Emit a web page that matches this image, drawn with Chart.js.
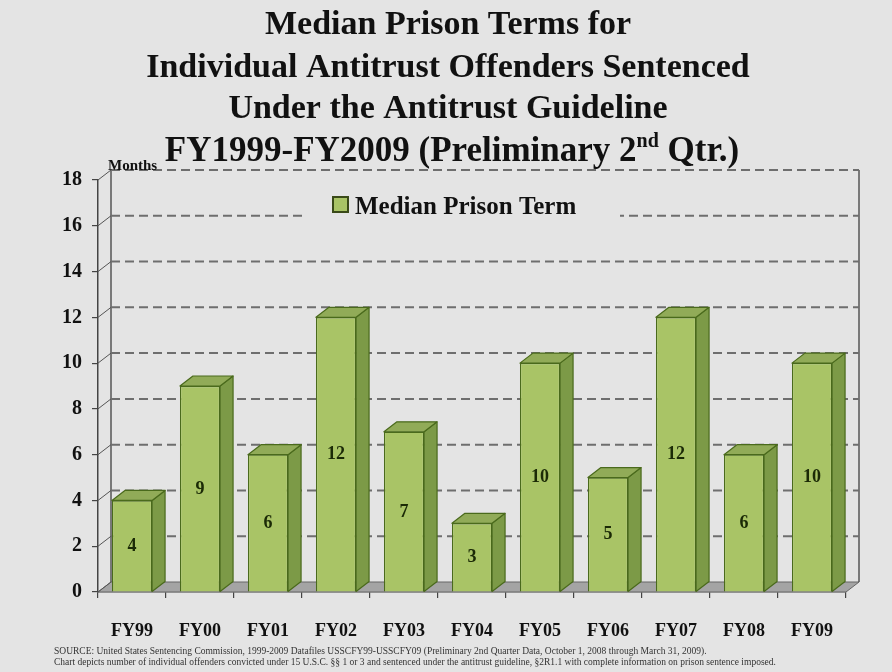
<!DOCTYPE html>
<html>
<head>
<meta charset="utf-8">
<script src="https://cdn.jsdelivr.net/npm/chart.js@4.4.0/dist/chart.umd.min.js"></script>
<style>
html,body{margin:0;padding:0;background:#e4e4e4;}
#wrap{width:892px;height:672px;position:relative;}
</style>
</head>
<body>
<div id="wrap"><canvas id="c" width="892" height="672"></canvas></div>
<script>
// ---- data ----
const categories = ['FY99','FY00','FY01','FY02','FY03','FY04','FY05','FY06','FY07','FY08','FY09'];
const medianPrisonTerm = [4, 9, 6, 12, 7, 3, 10, 5, 12, 6, 10];
const seriesLabel = 'Median Prison Term';
const yTickValues = [0, 2, 4, 6, 8, 10, 12, 14, 16, 18];
const yAxisTitle = 'Months';
const titleLines = [
  'Median Prison Terms for',
  'Individual Antitrust Offenders Sentenced',
  'Under the Antitrust Guideline'
];
const titleLast = ['FY1999-FY2009 (Preliminary 2', 'nd', ' Qtr.)'];
const footerLines = [
  'SOURCE: United States Sentencing Commission, 1999-2009 Datafiles USSCFY99-USSCFY09 (Preliminary 2nd Quarter Data, October 1, 2008 through March 31, 2009).',
  'Chart depicts number of individual offenders convicted under 15 U.S.C. \u00a7\u00a7 1 or 3 and sentenced under the antitrust guideline, \u00a72R1.1 with complete information on prison sentence imposed.'
];

// ---- styles ----
const SERIF = '"Liberation Serif","Times New Roman",serif';
const BG = '#e4e4e4';
const FRONT = '#a9c466', SIDE = '#7c9a47', TOP = '#91ab58', EDGE = '#4a6a1c';
const DX = 13, DY = 10;

const bgPlugin = {
  id: 'bg',
  beforeDraw(chart) {
    const c = chart.ctx;
    c.save(); c.fillStyle = BG; c.fillRect(0, 0, chart.width, chart.height); c.restore();
  }
};

const wallPlugin = {
  id: 'walls',
  beforeDatasetsDraw(chart) {
    const c = chart.ctx, a = chart.chartArea, y = chart.scales.y;
    c.save();
    // floor
    c.fillStyle = '#a4a4a4';
    c.strokeStyle = '#666';
    c.lineWidth = 1;
    c.beginPath();
    c.moveTo(a.left, a.bottom); c.lineTo(a.right, a.bottom);
    c.lineTo(a.right + DX, a.bottom - DY); c.lineTo(a.left + DX, a.bottom - DY);
    c.closePath(); c.fill(); c.stroke();
    const topY = y.getPixelForValue(y.max);
    // back wall verticals
    c.strokeStyle = '#555'; c.lineWidth = 1.5;
    c.beginPath();
    c.moveTo(a.left + DX, topY - DY); c.lineTo(a.left + DX, a.bottom - DY);
    c.moveTo(a.right + DX, topY - DY); c.lineTo(a.right + DX, a.bottom - DY);
    c.stroke();
    // side wall connectors + dashed back gridlines
    yTickValues.forEach(v => {
      const py = y.getPixelForValue(v);
      c.setLineDash([]);
      c.strokeStyle = '#555'; c.lineWidth = 1;
      c.beginPath(); c.moveTo(a.left, py); c.lineTo(a.left + DX, py - DY); c.stroke();
      if (v > 0) {
        c.setLineDash([9, 5]);
        c.strokeStyle = '#6e6e6e'; c.lineWidth = 2;
        c.beginPath(); c.moveTo(a.left + DX, py - DY); c.lineTo(a.right + DX, py - DY); c.stroke();
      }
    });
    c.setLineDash([]);
    // legend (covers gridline)
    c.fillStyle = BG;
    c.fillRect(302, 188, 318, 44);
    c.fillStyle = FRONT; c.strokeStyle = '#3a4a18'; c.lineWidth = 2;
    c.fillRect(333, 197, 15, 15); c.strokeRect(333, 197, 15, 15);
    c.fillStyle = '#111';
    c.font = 'bold 25px ' + SERIF;
    c.textAlign = 'left'; c.textBaseline = 'middle';
    c.fillText(seriesLabel, 355, 208);
    c.restore();
  },
  afterDatasetsDraw(chart) {
    const c = chart.ctx, y = chart.scales.y;
    const meta = chart.getDatasetMeta(0);
    c.save();
    c.lineWidth = 1.2; c.strokeStyle = EDGE; c.lineJoin = 'round';
    meta.data.forEach((bar, i) => {
      const p = bar.getProps(['x', 'y', 'base', 'width'], true);
      const l = p.x - p.width / 2, r = p.x + p.width / 2;
      // side face
      c.fillStyle = SIDE;
      c.beginPath();
      c.moveTo(r, p.y); c.lineTo(r + DX, p.y - DY); c.lineTo(r + DX, p.base - DY); c.lineTo(r, p.base);
      c.closePath(); c.fill(); c.stroke();
      // top face
      c.fillStyle = TOP;
      c.beginPath();
      c.moveTo(l, p.y); c.lineTo(l + DX, p.y - DY); c.lineTo(r + DX, p.y - DY); c.lineTo(r, p.y);
      c.closePath(); c.fill(); c.stroke();
      // value label
      const v = medianPrisonTerm[i];
      c.fillStyle = '#1b2a06';
      c.font = 'bold 18px ' + SERIF;
      c.textAlign = 'center'; c.textBaseline = 'middle';
      c.fillText(String(v), p.x, y.getPixelForValue(v / 2));
    });
    c.restore();
  }
};

const textPlugin = {
  id: 'texts',
  afterDraw(chart) {
    const c = chart.ctx;
    c.save();
    c.fillStyle = '#111';
    c.textBaseline = 'middle';
    c.textAlign = 'center';
    const cx = 448;
    const lineYs = [25, 68, 109];
    c.font = 'bold 34px ' + SERIF;
    titleLines.forEach((t, i) => c.fillText(t, cx, lineYs[i]));
    // last title line with superscript
    const big = 'bold 35px ' + SERIF, small = 'bold 20px ' + SERIF;
    c.font = big; const w1 = c.measureText(titleLast[0]).width, w3 = c.measureText(titleLast[2]).width;
    c.font = small; const w2 = c.measureText(titleLast[1]).width;
    let x = 452 - (w1 + w2 + w3) / 2;
    const ly = 152;
    c.textAlign = 'left';
    c.font = big; c.fillText(titleLast[0], x, ly); x += w1;
    c.font = small; c.fillText(titleLast[1], x, ly - 10); x += w2;
    c.font = big; c.fillText(titleLast[2], x, ly);
    // axis title
    c.font = 'bold 15px ' + SERIF;
    c.textBaseline = 'alphabetic';
    c.fillText(yAxisTitle, 108, 170);
    // footer
    c.font = '9.5px ' + SERIF;
    c.fillStyle = '#333';
    c.fillText(footerLines[0], 54, 654, 686);
    c.fillText(footerLines[1], 54, 665, 756);
    c.restore();
  }
};

new Chart(document.getElementById('c'), {
  type: 'bar',
  data: {
    labels: categories,
    datasets: [{
      label: seriesLabel,
      data: medianPrisonTerm,
      backgroundColor: FRONT,
      borderColor: EDGE,
      borderWidth: 1.2,
      barPercentage: 0.59,
      categoryPercentage: 1
    }]
  },
  options: {
    responsive: false,
    animation: false,
    layout: { padding: { top: 180, left: 0, right: 46, bottom: 0 } },
    plugins: { legend: { display: false }, title: { display: false }, tooltip: { enabled: false } },
    scales: {
      y: {
        min: 0, max: 18,
        afterFit(s) { s.width = 98; },
        afterBuildTicks(s) { s.ticks = yTickValues.map(v => ({ value: v })); },
        ticks: { font: { family: SERIF, size: 20, weight: 'bold' }, color: '#111', padding: 10 },
        grid: { drawOnChartArea: false, tickLength: 6, color: '#444', lineWidth: 1.2 },
        border: { display: true, color: '#444', width: 1.5 }
      },
      x: {
        afterFit(s) { s.height = 80; },
        ticks: { font: { family: SERIF, size: 18, weight: 'bold' }, color: '#111', padding: 23 },
        grid: { drawOnChartArea: false, tickLength: 6, color: '#444', offset: true, lineWidth: 1.2 },
        border: { display: true, color: '#444', width: 1.2 }
      }
    }
  },
  plugins: [bgPlugin, wallPlugin, textPlugin]
});
</script>
</body>
</html>
